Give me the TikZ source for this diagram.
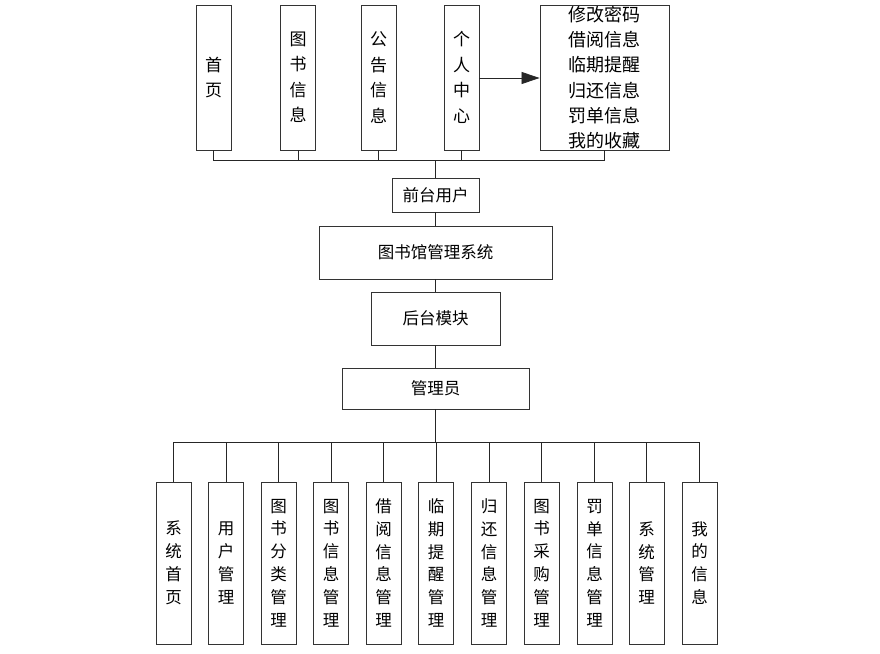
\documentclass[tikz,border=0pt]{standalone}
\usepackage{fontspec}
\setmainfont{Noto Sans CJK SC}
\usetikzlibrary{arrows.meta}
\tikzset{
  x=1pt, y=-1pt,
  box/.style={draw=black!80, line width=0.9pt, fill=white, inner sep=0pt, align=center,
    font=\fontsize{16.5}{20}\selectfont},
  topv/.style={box, minimum width=35pt, minimum height=145pt,
    font=\fontsize{17}{25.5}\selectfont},
  botv/.style={box, minimum width=35pt, minimum height=162pt,
    font=\fontsize{16.5}{22.8}\selectfont},
  link/.style={draw=black!85, line width=0.8pt},
}
\begin{document}
\begin{tikzpicture}
\useasboundingbox (0,0) rectangle (880,653);
% top row
\node[topv] (sy) at (213.5,77.5) {首\\页};
\node[topv] (ts) at (298,77.5) {图\\书\\信\\息};
\node[topv] (gg) at (378.5,77.5) {公\\告\\信\\息};
\node[topv] (gr) at (461.5,77.5) {个\\人\\中\\心};
\node[box, minimum width=129pt, minimum height=145pt, font=\fontsize{18}{25.2}\selectfont] (gn) at (604.5,77.5)
  {修改密码\\借阅信息\\临期提醒\\归还信息\\罚单信息\\我的收藏};
% middle chain
\node[box, minimum width=87pt, minimum height=34pt] (qt) at (435.5,195) {前台用户};
\node[box, minimum width=233pt, minimum height=53pt] (xt) at (435.5,252.5) {图书馆管理系统};
\node[box, minimum width=129pt, minimum height=53pt] (ht) at (435.5,318.5) {后台模块};
\node[box, minimum width=187pt, minimum height=41pt] (gly) at (435.5,388.5) {管理员};
% bottom row
\node[botv] (b1) at (173.5,563) {系\\统\\首\\页};
\node[botv] (b2) at (226,563) {用\\户\\管\\理};
\node[botv] (b3) at (278.5,563) {图\\书\\分\\类\\管\\理};
\node[botv] (b4) at (331,563) {图\\书\\信\\息\\管\\理};
\node[botv] (b5) at (383.5,563) {借\\阅\\信\\息\\管\\理};
\node[botv] (b6) at (436,563) {临\\期\\提\\醒\\管\\理};
\node[botv] (b7) at (489,563) {归\\还\\信\\息\\管\\理};
\node[botv] (b8) at (541.5,563) {图\\书\\采\\购\\管\\理};
\node[botv] (b9) at (594.5,563) {罚\\单\\信\\息\\管\\理};
\node[botv] (b10) at (646.5,563) {系\\统\\管\\理};
\node[botv] (b11) at (699.5,563) {我\\的\\信\\息};
% connectors
\coordinate (tb) at (435.5,160);
\coordinate (bb) at (435.5,442);
\draw[link] (qt.north) -- (tb);
\foreach \n in {sy,ts,gg,gr,gn} \draw[link] (\n.south) |- (tb);
\draw[link] (qt.south) -- (xt.north);
\draw[link] (xt.south) -- (ht.north);
\draw[link] (ht.south) -- (gly.north);
\draw[link] (gly.south) -- (bb);
\foreach \n in {b1,b2,b3,b4,b5,b6,b7,b8,b9,b10,b11} \draw[link] (\n.north) |- (bb);
\draw[link, -{Triangle[length=18pt,width=12pt]}] (gr.east |- 0,78) -- (gn.west |- 0,78);
\end{tikzpicture}
\end{document}
